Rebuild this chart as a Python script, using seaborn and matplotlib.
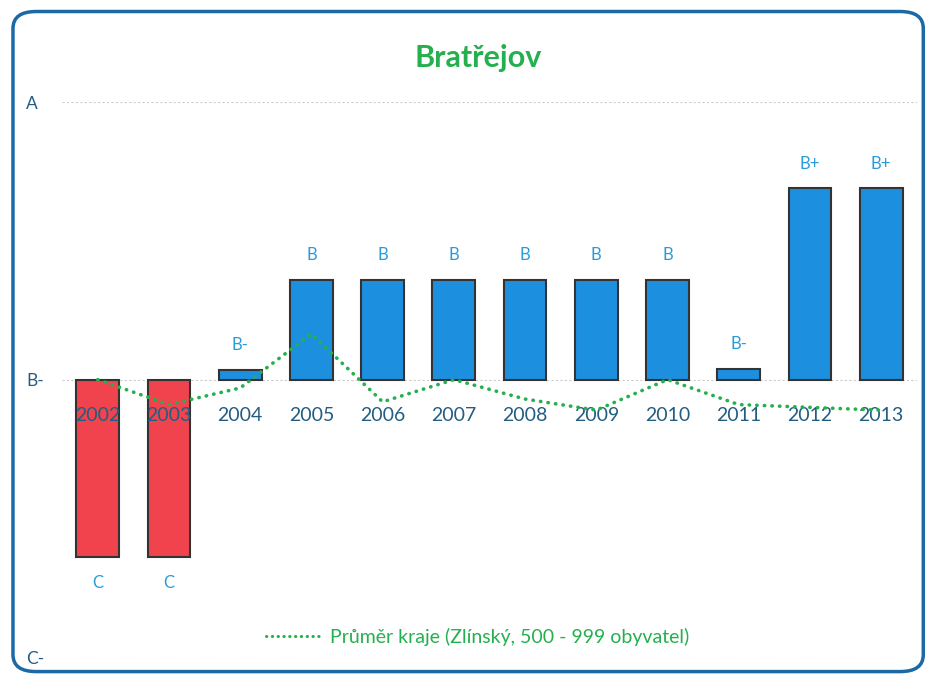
import matplotlib
matplotlib.use("Agg")
import matplotlib.pyplot as plt
from matplotlib.patches import FancyBboxPatch
from matplotlib.lines import Line2D
import seaborn as sns
import pandas as pd

# grade scale: C- = -1, B- = 0, A = 1
years = ["2002", "2003", "2004", "2005", "2006", "2007",
         "2008", "2009", "2010", "2011", "2012", "2013"]
scores = [-0.64, -0.64, 0.035, 0.36, 0.36, 0.36,
          0.36, 0.36, 0.36, 0.04, 0.69, 0.69]
grades = ["C", "C", "B-", "B", "B", "B", "B", "B", "B", "B-", "B+", "B+"]
region_avg = [0.0, -0.09, -0.03, 0.165, -0.08, 0.0,
              -0.07, -0.11, 0.0, -0.09, -0.10, -0.11]
ytick_vals = [-1, 0, 1]
ytick_labels = ["C-", "B-", "A"]

title = "Bratřejov"
legend_label = "Průměr kraje (Zlínský, 500 - 999 obyvatel)"

BLUE = "#1d8fdf"
RED = "#f0434d"
GREEN = "#25b04f"
LABEL_BLUE = "#2a9bd9"
TICK_BLUE = "#235d82"

sns.set_style("white")
plt.rcParams["font.family"] = ["Lato", "DejaVu Sans"]

df = pd.DataFrame({"year": years, "score": scores})
colors = [RED if s < 0 else BLUE for s in scores]

fig = plt.figure(figsize=(9.27, 6.77), dpi=100)
ax = fig.add_axes([0.067, 0.0295, 0.922, 0.8195])

sns.barplot(data=df, x="year", y="score", hue="year", palette=colors,
            legend=False, width=0.6, edgecolor="#333333", linewidth=1.5,
            saturation=1, ax=ax)

ax.plot(range(len(years)), region_avg, color=GREEN, linestyle=(0, (0.1, 2.0)),
        linewidth=2.6, dash_capstyle="round", zorder=3)

for i, (s, g) in enumerate(zip(scores, grades)):
    if s >= 0:
        ax.annotate(g, (i, s), xytext=(0, 12), textcoords="offset points",
                    ha="center", va="bottom", color=LABEL_BLUE, fontsize=12)
    else:
        ax.annotate(g, (i, s), xytext=(0, -13), textcoords="offset points",
                    ha="center", va="top", color=LABEL_BLUE, fontsize=12)

ax.set_ylim(-1, 1)
ax.set_xlim(-0.5, len(years) - 0.5)
ax.set_yticks(ytick_vals)
ax.set_yticklabels(ytick_labels, color=TICK_BLUE, fontsize=12.5)
for v in ytick_vals:
    ax.axhline(v, color="#cccccc", linestyle=(0, (2, 2)), linewidth=0.8, zorder=0)

ax.set_axisbelow(False)
ax.spines["bottom"].set_position(("data", 0))
for sp in ax.spines.values():
    sp.set_visible(False)
ax.tick_params(axis="x", length=0, pad=20, labelsize=14, labelcolor=TICK_BLUE)
ax.tick_params(axis="y", length=0, pad=26)
for lab in ax.get_yticklabels():
    lab.set_horizontalalignment("left")
ax.set_xlabel("")
ax.set_ylabel("")

fig.text(0.516, 0.915, title, ha="center", va="center", color=GREEN,
         fontsize=22, fontweight="bold")

handle = Line2D([], [], color=GREEN, linestyle=(0, (0.1, 1.8)), linewidth=2.2,
                dash_capstyle="round")
leg = fig.legend([handle], [legend_label], loc="center",
                 bbox_to_anchor=(0.515, 0.059), frameon=False, fontsize=14,
                 handlelength=2.8, handletextpad=0.5)
for t in leg.get_texts():
    t.set_color(GREEN)

border = FancyBboxPatch((0.014, 0.008), 0.982, 0.975, transform=fig.transFigure,
                        boxstyle="round,pad=0,rounding_size=0.025",
                        fill=False, edgecolor="#1b6aa5", linewidth=2.5)
fig.patches.append(border)

fig.savefig("out.png", dpi=100)
